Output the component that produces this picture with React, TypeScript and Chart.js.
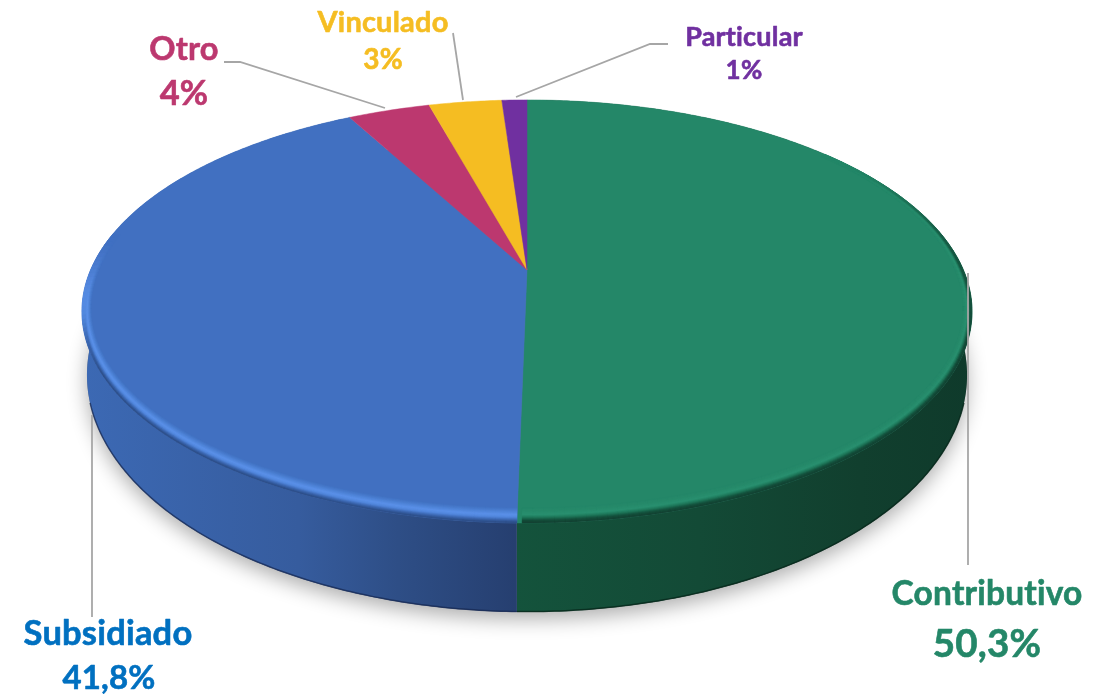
import React, { useEffect, useRef } from "react";
import { Chart, registerables } from "chart.js";

Chart.register(...registerables);

const categories = ["Contributivo", "Subsidiado", "Otro", "Vinculado", "Particular"];
const shareValues = [50.3, 41.8, 3.6, 3.2, 1.1];
const shareLabels = ["50,3%", "41,8%", "4%", "3%", "1%"];
const faceColors = ["#248768", "#4170C1", "#BC386F", "#F5BD22", "#7030A0"];
const textColors = ["#248768", "#0070C0", "#BC386F", "#F5BD22", "#7030A0"];

type Stop = [number, string];
const sideStops: (Stop[] | null)[] = [
  [[0, "#14533c"], [0.4, "#134a36"], [0.75, "#113f2e"], [1, "#0f3a2b"]],
  [[0, "#3c69b4"], [0.5, "#365c9e"], [0.73, "#2e4e86"], [1, "#263f70"]],
  null,
  null,
  null,
];

type Proj = { A: number; B: number; Y0: number };
const CX = 527;
const K = 0.196;
const TOP: Proj = { A: 436.4, B: 203.4, Y0: 270 };
const BASE: Proj = { A: 431.5, B: 227.9, Y0: 328.6 };

function project(p: Proj, r: number, t: number): [number, number] {
  const u = r * Math.cos(t);
  const v = r * Math.sin(t);
  const d = 1 - K * v;
  return [CX + (p.A * u) / d, p.Y0 + (p.B * v) / d];
}

function hex(c: string): number[] {
  return [1, 3, 5].map((i) => parseInt(c.slice(i, i + 2), 16));
}
function mix(a: number[], b: number[], f: number): number[] {
  return a.map((x, i) => x + (b[i] - x) * f);
}
function ramp(stops: Stop[], t: number): number[] {
  for (let i = 1; i < stops.length; i++) {
    if (t <= stops[i][0]) {
      const f = (t - stops[i - 1][0]) / (stops[i][0] - stops[i - 1][0]);
      return mix(hex(stops[i - 1][1]), hex(stops[i][1]), f);
    }
  }
  return hex(stops[stops.length - 1][1]);
}
function smooth(a: number, b: number, x: number): number {
  const t = Math.max(0, Math.min(1, (x - a) / (b - a)));
  return t * t * (3 - 2 * t);
}

const bevelRamps: (Stop[] | null)[] = [
  [[0, "#123f30"], [0.18, "#14503c"], [0.36, "#1f7a5c"], [0.52, "#2a9070"], [0.8, "#268a6a"], [1, "#248768"]],
  [[0, "#2b4a82"], [0.18, "#3b66ae"], [0.36, "#5288de"], [0.52, "#5c92ea"], [0.8, "#4a7ed0"], [1, "#4170C1"]],
  null,
  null,
  null,
];
const bevelFade = [
  (d: number) => smooth(-40, 0, d),
  (d: number) => 1 - smooth(168, 190, d),
];

function bevelPoint(t: number, lvl: number): [number, number] {
  const [x, y] = project(TOP, 1 - 0.02 * lvl, t);
  return [x, y - 9 * lvl * Math.max(0, Math.sin(t))];
}

function path(ctx: CanvasRenderingContext2D, pts: [number, number][]) {
  ctx.beginPath();
  pts.forEach((p, i) => (i ? ctx.lineTo(p[0], p[1]) : ctx.moveTo(p[0], p[1])));
  ctx.closePath();
}
function samples(a: number, b: number): number[] {
  const n = Math.max(4, Math.ceil((b - a) / 0.01));
  const out: number[] = [];
  for (let i = 0; i <= n; i++) out.push(a + ((b - a) * i) / n);
  return out;
}

const leaderOtro: [number, number][] = [[224, 62], [240, 62], [385, 108]];
const leaderVinculado: [number, number][] = [[453, 33], [463, 100]];
const leaderParticular: [number, number][] = [[668, 44], [650, 44], [516, 97]];
const leaderContributivo: [number, number][] = [[968, 273], [968, 565]];
const leaderSubsidiado: [number, number][] = [[92, 415], [92, 617]];
const leaders = [leaderContributivo, leaderSubsidiado, leaderOtro, leaderVinculado, leaderParticular];

const namePos: [number, number, number][] = [
  [987, 594, 33.5],
  [108, 634, 34.5],
  [184, 50, 32.5],
  [383, 23, 29],
  [744, 37, 27],
];
const valuePos: [number, number, number][] = [
  [987, 645, 38.5],
  [109, 678, 33],
  [184, 94, 34.5],
  [383, 60, 28],
  [744, 71, 26],
];

const pie3d = {
  id: "pie3d",
  beforeDatasetDraw(chart: any) {
    const ctx: CanvasRenderingContext2D = chart.ctx;
    const arcs = chart.getDatasetMeta(0).data;
    ctx.save();

    // soft shadow under the disc
    ctx.save();
    ctx.shadowColor = "rgba(0,0,0,0.32)";
    ctx.shadowBlur = 20;
    ctx.shadowOffsetY = 7;
    ctx.fillStyle = "#888";
    path(ctx, samples(0, Math.PI * 2).map((t) => project(BASE, 1, t)));
    ctx.fill();
    ctx.restore();

    // extruded side
    arcs.forEach((arc: any, i: number) => {
      const stops = sideStops[i];
      if (!stops) return;
      const ts = samples(arc.startAngle, arc.endAngle);
      const g =
        i === 0
          ? ctx.createLinearGradient(515, 0, 975, 0)
          : ctx.createLinearGradient(82, 0, 515, 0);
      stops.forEach((s) => g.addColorStop(s[0], s[1]));
      ctx.fillStyle = g;
      const pts = ts.map((t) => project(TOP, 1, t)).concat(ts.slice().reverse().map((t) => project(BASE, 1, t)));
      path(ctx, pts);
      ctx.fill();
      // dark lower edge
      ctx.strokeStyle = i === 0 ? "rgba(8,40,28,0.8)" : "rgba(22,38,80,0.7)";
      ctx.lineWidth = 1.5;
      ctx.beginPath();
      ts.filter((t) => Math.sin(t) > 0.3).forEach((t, j) => {
        const [x, y] = project(BASE, 1, t);
        if (j) ctx.lineTo(x, y - 0.5);
        else ctx.moveTo(x, y - 0.5);
      });
      ctx.stroke();
    });

    // top face
    arcs.forEach((arc: any, i: number) => {
      const pts = samples(arc.startAngle, arc.endAngle).map((t) => project(TOP, 1, t));
      pts.push(project(TOP, 0, 0));
      path(ctx, pts);
      ctx.fillStyle = faceColors[i];
      ctx.strokeStyle = faceColors[i];
      ctx.lineWidth = 0.5;
      ctx.fill();
      ctx.stroke();
    });

    // bevelled rim
    const LEVELS = 16;
    arcs.forEach((arc: any, i: number) => {
      const stops = bevelRamps[i];
      if (!stops) return;
      const ts = samples(arc.startAngle, arc.endAngle).filter((_, j) => j % 2 === 0);
      const face = hex(faceColors[i]);
      for (let l = LEVELS - 1; l >= 0; l--) {
        for (let j = 1; j < ts.length; j++) {
          const t0 = ts[j - 1];
          const t1 = ts[j];
          const fade = bevelFade[i]((t0 * 180) / Math.PI);
          if (fade <= 0) continue;
          // toward the flanks the dark outer part of the rim disappears
          const flank = 1 - smooth(0.05, 0.55, Math.sin(t0));
          const minLevel = (i === 1 ? 0.5 : 0.2) * flank;
          const lvl = Math.max((l + 0.5) / LEVELS, minLevel);
          const c = mix(face, ramp(stops, lvl), fade);
          const col = `rgb(${c.map((x) => Math.round(x)).join(",")})`;
          ctx.fillStyle = col;
          ctx.strokeStyle = col;
          ctx.lineWidth = 0.6;
          path(ctx, [
            bevelPoint(t0, l / LEVELS),
            bevelPoint(t1, l / LEVELS),
            bevelPoint(t1, (l + 1) / LEVELS),
            bevelPoint(t0, (l + 1) / LEVELS),
          ]);
          ctx.fill();
          ctx.stroke();
        }
      }
    });

    // leader lines
    ctx.strokeStyle = "#A6A6A6";
    ctx.lineWidth = 1.8;
    leaders.forEach((line) => {
      ctx.beginPath();
      line.forEach((p, j) => (j ? ctx.lineTo(p[0], p[1]) : ctx.moveTo(p[0], p[1])));
      ctx.stroke();
    });

    // data labels
    ctx.textAlign = "center";
    ctx.textBaseline = "middle";
    (ctx as any).letterSpacing = "0.2px";
    ctx.lineWidth = 0.6;
    ctx.lineJoin = "round";
    const put = (text: string, pos: [number, number, number], color: string) => {
      ctx.fillStyle = color;
      ctx.strokeStyle = color;
      ctx.font = `700 ${pos[2]}px Lato`;
      ctx.fillText(text, pos[0], pos[1]);
      ctx.strokeText(text, pos[0], pos[1]);
    };
    categories.forEach((name, i) => {
      put(name, namePos[i], textColors[i]);
      put(shareLabels[i], valuePos[i], textColors[i]);
    });

    ctx.restore();
    return false;
  },
};

export default function App() {
  const ref = useRef<HTMLCanvasElement | null>(null);
  useEffect(() => {
    const chart = new Chart(ref.current as HTMLCanvasElement, {
      type: "pie",
      data: {
        labels: categories,
        datasets: [{ data: shareValues, backgroundColor: faceColors, borderWidth: 0 }],
      },
      options: {
        responsive: false,
        animation: false,
        plugins: { legend: { display: false }, tooltip: { enabled: false } },
      },
      plugins: [pie3d],
    } as any);
    return () => chart.destroy();
  }, []);
  return (
    <div style={{ position: "fixed", left: 0, top: 0, width: 1111, height: 695, background: "#fff" }}>
      <canvas ref={ref} width={1111} height={695} style={{ display: "block" }} />
    </div>
  );
}
